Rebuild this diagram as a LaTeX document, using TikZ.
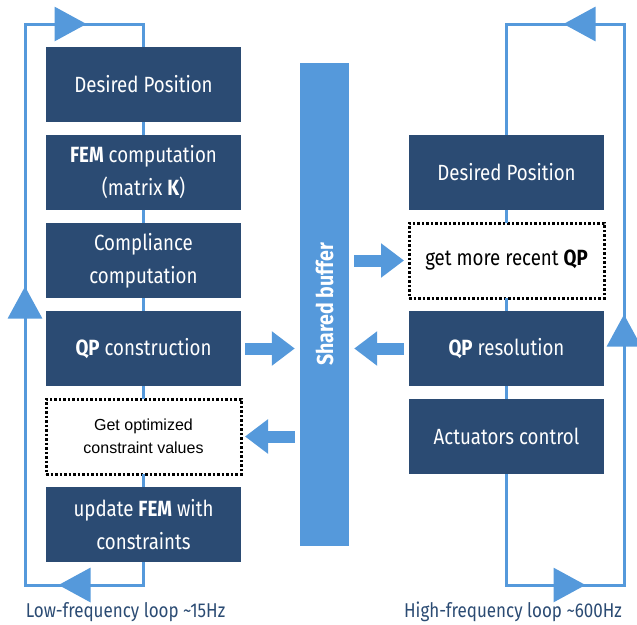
\documentclass[tikz,border=0pt]{standalone}
\usepackage{fontspec}
\setmainfont{Liberation Sans}
\newfontfamily\boxfont[FakeStretch=0.85]{Fira Sans}
\usetikzlibrary{positioning,arrows.meta,decorations.markings}
\definecolor{navy}{HTML}{2B4B73}
\definecolor{sky}{HTML}{5599DB}
\tikzset{
	stage/.style={fill=navy, text=white, minimum width=195pt, minimum height=75pt, inner sep=0pt, outer sep=0pt, align=center, font=\boxfont\fontsize{22}{33}\selectfont},
	fetch/.style={stage, fill=white, text=black, draw=black, line width=3pt, dash pattern=on 2.5pt off 2pt},
	link/.style={draw=sky, line width=3pt},
	loopline/.style={link, postaction=decorate},
	push/.style={draw=sky, line width=12pt, -{Triangle[length=23pt,width=33pt]}},
	bigtip/.tip={Triangle[length=32pt,width=34pt]},
	looplabel/.style={text=navy, inner sep=0pt, font=\boxfont\fontsize{20}{24}\selectfont}
}
\begin{document}
\begin{tikzpicture}[x=1pt, y=-1pt]
	\useasboundingbox (0,0) rectangle (637,624);
	% low-frequency side
	\node[stage] (dp1) at (143.5,84.5) {Desired Position};
	\node[stage, below=13pt of dp1] (fem) {{\bfseries FEM} computation\\(matrix {\bfseries K})};
	\node[stage, below=13pt of fem] (comp) {Compliance\\computation};
	\node[stage, below=13pt of comp] (qpc) {{\bfseries QP} construction};
	\node[fetch, below=13pt of qpc, font=\fontsize{16}{23}\selectfont] (getopt) {Get optimized\\constraint values};
	\node[stage, below=13pt of getopt] (upd) {update {\bfseries FEM} with\\constraints};
	% shared buffer
	\node[fill=sky, minimum width=49pt, minimum height=483pt, inner sep=0pt] (buffer) at (324.5,304.5) {};
	\node[rotate=90, text=white, font=\boxfont\bfseries\fontsize{23}{26}\selectfont] (buflabel) at (buffer) {Shared buffer};
	% high-frequency side
	\node[stage] (dp2) at (506.5,172.5) {Desired Position};
	\node[fetch, below=13pt of dp2] (recent) {get more recent {\bfseries QP}};
	\node[stage, below=13pt of recent] (qpres) {{\bfseries QP} resolution};
	\node[stage, below=13pt of qpres] (act) {Actuators control};
	\path
		(25,24) coordinate (lowtop)
		(25,585) coordinate (lowbot)
		(624,24) coordinate (hightop)
		(624,585) coordinate (highbot)
	;
	\draw[link]
		(dp1) -- (fem)
		(fem) -- (comp)
		(comp) -- (qpc)
		(qpc) -- (getopt)
		(getopt) -- (upd)
		(dp2) -- (recent)
		(recent) -- (qpres)
		(qpres) -- (act)
	;
	\draw[loopline, decoration={markings,
		mark=at position 108pt with {\arrow{bigtip}},
		mark=at position 440pt with {\arrow{bigtip}},
		mark=at position 764pt with {\arrow{bigtip}}}]
		(upd.south) |- (lowbot) -- (lowtop) -| (dp1.north);
	\draw[loopline, decoration={markings,
		mark=at position 190pt with {\arrow{bigtip}},
		mark=at position 499pt with {\arrow{bigtip}},
		mark=at position 850pt with {\arrow{bigtip}}}]
		(act.south) |- (highbot) -- (hightop) -| (dp2.north);
	\draw[push, shorten <=4pt, shorten >=5pt] (qpc.east) -- (qpc.east -| buffer.west);
	\draw[push, shorten <=5pt, shorten >=4pt] (getopt.east -| buffer.west) -- (getopt.east);
	\draw[push, shorten <=5pt, shorten >=5pt] (recent.west -| buffer.east) -- (recent.west);
	\draw[push, shorten <=5pt, shorten >=5pt] (qpres.west) -- (qpres.west -| buffer.east);
	\node[looplabel] (lowlabel) at (125.5,612) {Low-frequency loop \textasciitilde15Hz};
	\node[looplabel] (highlabel) at (513,612) {High-frequency loop \textasciitilde600Hz};
\end{tikzpicture}
\end{document}
